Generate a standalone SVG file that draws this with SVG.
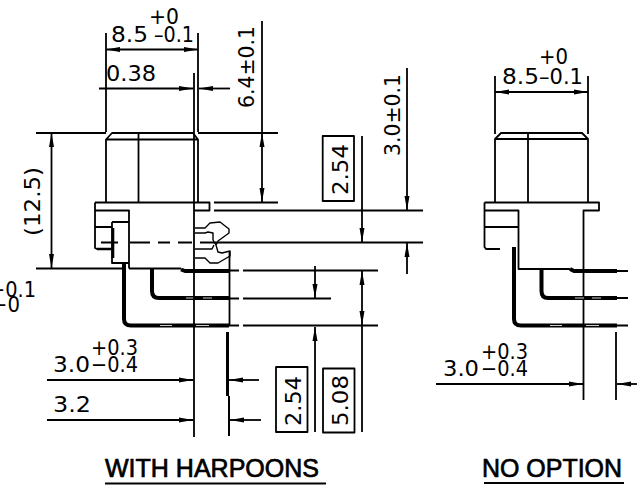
<svg xmlns="http://www.w3.org/2000/svg" width="637" height="495" viewBox="0 0 637 495">
<style>
.l{fill:none;stroke:#000;stroke-width:1.8;stroke-linejoin:round}
.h{fill:none;stroke:#000;stroke-width:1.4;stroke-linejoin:round}
.b{fill:none;stroke:#000;stroke-width:4;stroke-linejoin:round}
.w{fill:none;stroke:#ccc;stroke-width:1}
.a{marker-end:url(#ah)}
.as{marker-start:url(#ahs)}
text{font-family:"DejaVu Sans",sans-serif;fill:#000;font-size:22px}
.s{font-size:21px}
.u{font-family:"Liberation Sans",Arial,sans-serif;font-size:25px;stroke:#000;stroke-width:.7}
</style>
<defs>
<marker id="ah" markerUnits="userSpaceOnUse" markerWidth="15" markerHeight="7" refX="14" refY="3" orient="auto"><path d="M0,0.5 L14,3 L0,5.5 Z" fill="#000"/></marker>
<marker id="ahs" markerUnits="userSpaceOnUse" markerWidth="15" markerHeight="7" refX="0" refY="3" orient="auto"><path d="M14,0.5 L0,3 L14,5.5 Z" fill="#000"/></marker>
</defs>
<rect width="637" height="495" fill="#fff"/>
<g id="view-with-harpoons">
<path class="l" d="M106,202V139.5L112,133H193L198,139.5V202M106,139.5H198M138.5,133V202M95,202.5H209.5V210.5H194M95,202.5V248L97,249H112M95,210.5H129V268.5M112,222H129M112,222V263H129M95,227H112"/>
<path class="b" style="stroke-width:2.6" d="M113,228V258M97,249H112"/>
<path class="l" d="M129,268.5H181M229.5,251V326"/>
<path class="l" d="M101,242.5H118M130,242.5H150M158,242.5H170M178,242.5H192M200,242.5H423"/>
<path class="h" d="M195,228H205L210,223L220,222L229,229V233L218,241L216,245L218,252L222,253L230,251V256L218,263H210L205,258H195M195,233H205L208,232L213,233V240L216,245M195,249H212L214,245"/>
<path class="b" d="M181,269.5L185,271H229"/>
<path class="b" d="M124,264V319Q124,325.5 131,325.5H229"/>
<path class="b" d="M152,269V291Q152,298 159,298H229"/>
<path class="w" d="M186,298H195M203,298H212M160,325.5H172M196,325.5H209"/>
<path class="b" style="stroke-width:3" d="M227.5,332V396"/>
<path class="l" d="M229,396V436"/>
</g>
<g id="view-no-option">
<path class="l" d="M495,202V139L501,133H582L588,139V202M495,139H588M528,133V202M484.5,202.5H599V210.5H583.5V400M484.5,202.5V247L486,249H500M484.5,210.5H518.5V269H570M484.5,227H518.5"/>
<path class="b" d="M570,269L574,271H617"/>
<path class="b" d="M514,247V319Q514,325.5 521,325.5H617"/>
<path class="b" d="M541.5,269V291Q541.5,298 548,298H617"/>
<path class="w" d="M575,298H584M592,298H601M550,325.5H562M586,325.5H599"/>
<path class="l" d="M617,271H628M617,298H628M617,325.5H628M616,332V400"/>
</g>
<g id="connectors">
<path class="l" d="M106,33V132M198,33V132M194,73V437M36,133H106M198,133H278M214,202.5H278M214,210.5H423M36,268.5H122M229,270.5H239M243,270.5H378M229,298.5H239M243,298.5H331M229,325.5H239M243,325.5H378M229,396V436"/>
<path class="l a as" d="M106,49.5H198"/>
<path class="l a" d="M99,88.5H193"/>
<path class="l a" d="M230,88.5H199"/>
<path class="l a as" d="M262,133V202"/>
<path class="l" d="M262,21V133"/>
<path class="l a as" d="M51.5,133V268"/>
<path class="l a" d="M362,136V242"/>
<path class="l a" d="M407,68V210"/>
<path class="l a" d="M407,274V243"/>
<path class="l a" d="M315,266V298"/>
<path class="l a" d="M315,432V327"/>
<path class="l a as" d="M362,271V325"/>
<path class="l" d="M362,325V432"/>
<path class="l a" d="M47,380H193"/>
<path class="l a" d="M259,380H229"/>
<path class="l a" d="M47,420H193"/>
<path class="l a" d="M261,420H230"/>
<path class="l" d="M495,76V134M588,76V134"/>
<path class="l a as" d="M495,92H588"/>
<path class="l a" d="M436,384H583"/>
<path class="l a" d="M637,384H617"/>
</g>
<g id="labels">
<text x="111" y="42" textLength="37" lengthAdjust="spacingAndGlyphs">8.5</text>
<text class="s" x="154" y="42" textLength="40" lengthAdjust="spacingAndGlyphs">–0.1</text>
<text class="s" x="149" y="24" textLength="30" lengthAdjust="spacingAndGlyphs">+0</text>
<text x="106" y="81" textLength="50" lengthAdjust="spacingAndGlyphs">0.38</text>
<text transform="translate(254,108) rotate(-90)" textLength="82" lengthAdjust="spacingAndGlyphs">6.4±0.1</text>
<text transform="translate(400,156) rotate(-90)" textLength="82" lengthAdjust="spacingAndGlyphs">3.0±0.1</text>
<text transform="translate(40,236) rotate(-90)" textLength="69" lengthAdjust="spacingAndGlyphs">(12.5)</text>
<text class="s" x="-11" y="297" textLength="47" lengthAdjust="spacingAndGlyphs">+0.1</text>
<text class="s" x="-9" y="312" textLength="29" lengthAdjust="spacingAndGlyphs">−0</text>
<text x="53" y="372" textLength="37" lengthAdjust="spacingAndGlyphs">3.0</text>
<text class="s" x="91" y="372" textLength="47" lengthAdjust="spacingAndGlyphs">−0.4</text>
<text class="s" x="91" y="355" textLength="47" lengthAdjust="spacingAndGlyphs">+0.3</text>
<text x="53" y="412" textLength="38" lengthAdjust="spacingAndGlyphs">3.2</text>
<rect class="l" x="322.7" y="136" width="31.3" height="65"/>
<text transform="translate(347.5,195) rotate(-90)" textLength="51" lengthAdjust="spacingAndGlyphs">2.54</text>
<rect class="l" x="276" y="367" width="31.5" height="65"/>
<text transform="translate(301,426) rotate(-90)" textLength="50" lengthAdjust="spacingAndGlyphs">2.54</text>
<rect class="l" x="323" y="368.5" width="31.5" height="64"/>
<text transform="translate(347.7,426) rotate(-90)" textLength="51" lengthAdjust="spacingAndGlyphs">5.08</text>
<text x="502" y="84" textLength="37" lengthAdjust="spacingAndGlyphs">8.5</text>
<text class="s" x="539" y="84" textLength="44" lengthAdjust="spacingAndGlyphs">–0.1</text>
<text class="s" x="539" y="63.5" textLength="29" lengthAdjust="spacingAndGlyphs">+0</text>
<text x="443" y="376" textLength="36" lengthAdjust="spacingAndGlyphs">3.0</text>
<text class="s" x="481" y="376" textLength="47" lengthAdjust="spacingAndGlyphs">−0.4</text>
<text class="s" x="481" y="359" textLength="47" lengthAdjust="spacingAndGlyphs">+0.3</text>
<text class="u" x="105" y="477" textLength="214" lengthAdjust="spacingAndGlyphs">WITH HARPOONS</text>
<path class="l" d="M105,483.5H326"/>
<text class="u" x="482" y="477" textLength="140" lengthAdjust="spacingAndGlyphs">NO OPTION</text>
<path class="l" d="M484,483H624"/>
</g>
</svg>
